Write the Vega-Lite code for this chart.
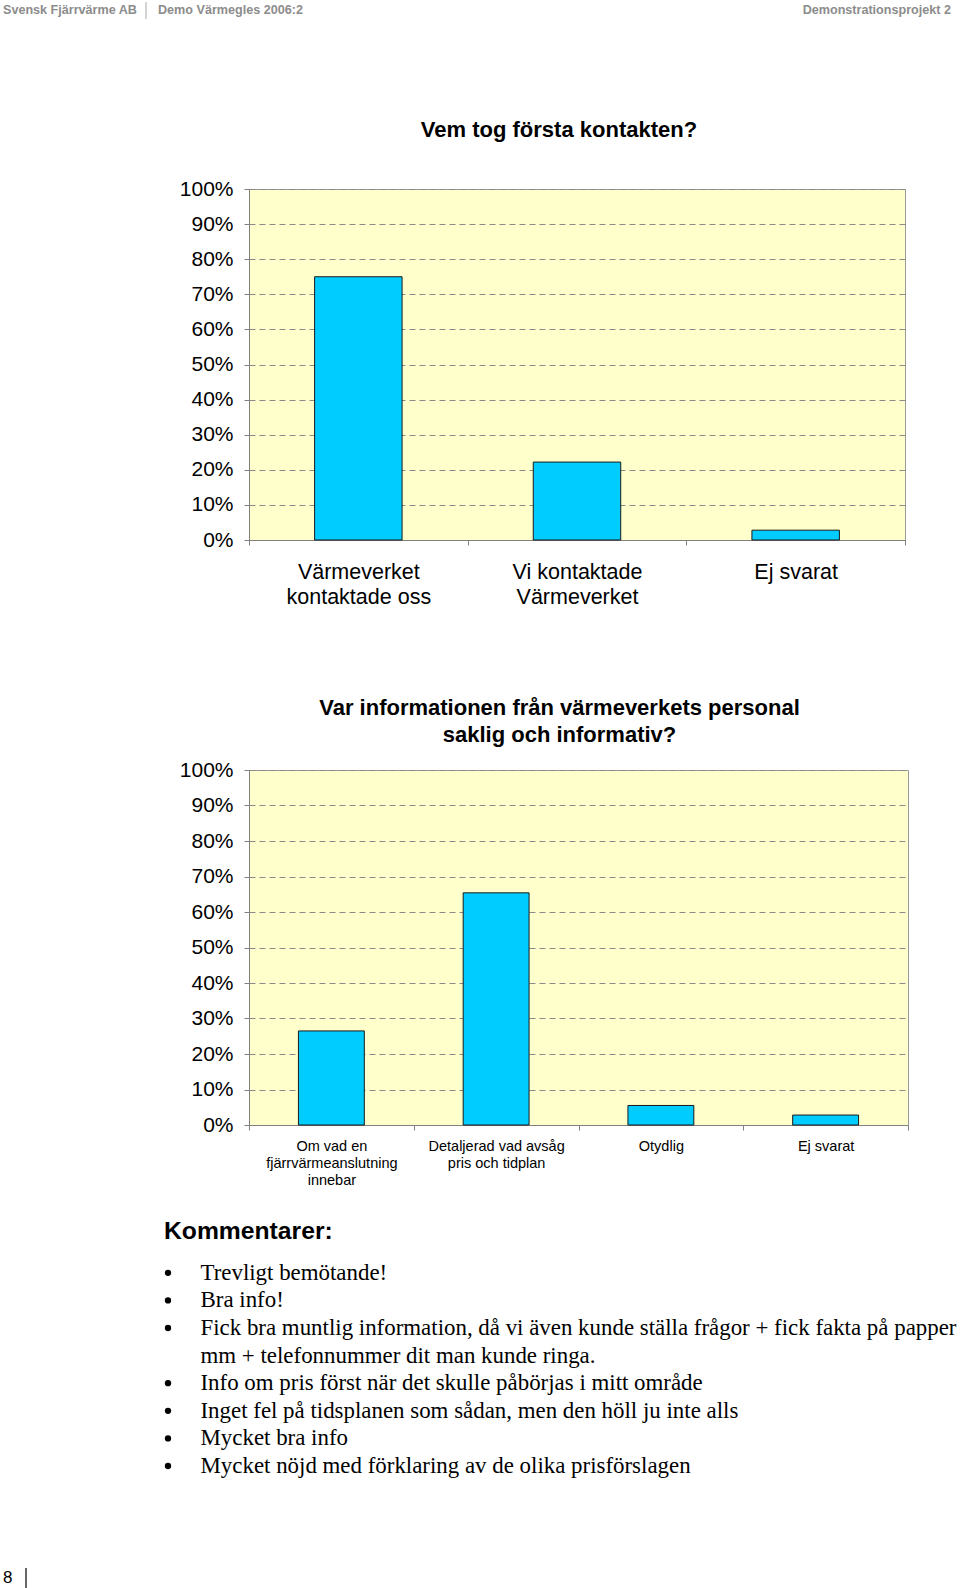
{
  "$schema": "https://vega.github.io/schema/vega-lite/v6.json",
  "padding": 0,
  "background": "white",
  "spacing": 0,
  "config": {
    "font": "Liberation Sans",
    "view": {"stroke": null},
    "title": {"color": "black", "font": "Liberation Sans"},
    "axis": {"labelFont": "Liberation Sans", "labelColor": "black"}
  },
  "vconcat": [
    {
      "width": 700,
      "height": 118,
      "data": {"values": [
        {"del": "vanster", "text": "Svensk Fjärrvärme AB"},
        {"del": "mitt", "text": "Demo Värmegles 2006:2"},
        {"del": "hoger", "text": "Demonstrationsprojekt 2"}
      ]},
      "layer": [
        {
          "transform": [{"filter": "datum.del == 'vanster'"}],
          "mark": {"type": "text", "align": "left", "baseline": "middle", "fontSize": 12.6, "fontWeight": "bold", "color": "#8c8c8c"},
          "encoding": {"x": {"value": -246}, "y": {"value": 10}, "text": {"field": "text"}}
        },
        {
          "transform": [{"filter": "datum.del == 'mitt'"}],
          "mark": {"type": "text", "align": "left", "baseline": "middle", "fontSize": 12.6, "fontWeight": "bold", "color": "#8c8c8c"},
          "encoding": {"x": {"value": -91}, "y": {"value": 10}, "text": {"field": "text"}}
        },
        {
          "transform": [{"filter": "datum.del == 'mitt'"}],
          "mark": {"type": "rule", "color": "#a8a8a8", "strokeWidth": 1},
          "encoding": {"x": {"value": -103}, "y": {"value": 2}, "y2": {"value": 19}}
        },
        {
          "transform": [{"filter": "datum.del == 'hoger'"}],
          "mark": {"type": "text", "align": "right", "baseline": "middle", "fontSize": 12.6, "fontWeight": "bold", "color": "#8c8c8c"},
          "encoding": {"x": {"value": 702}, "y": {"value": 10}, "text": {"field": "text"}}
        }
      ]
    },
    {
      "width": 656,
      "height": 351,
      "view": {"fill": "#FFFFCC", "stroke": "#9a9a9a"},
      "title": {"text": "Vem tog första kontakten?", "fontSize": 22, "fontWeight": "bold", "offset": 36.5, "dx": -18, "anchor": "middle"},
      "data": {"values": [
        {"svar": "Värmeverket\nkontaktade oss", "andel": 0.75},
        {"svar": "Vi kontaktade\nVärmeverket", "andel": 0.222},
        {"svar": "Ej svarat", "andel": 0.028}
      ]},
      "mark": {"type": "bar", "fill": "#00CCFF", "stroke": "#1a1a1a", "strokeWidth": 1, "width": {"band": 0.4}},
      "encoding": {
        "x": {
          "field": "svar", "type": "nominal", "sort": null,
          "scale": {"paddingInner": 0, "paddingOuter": 0},
          "axis": {"title": null, "labelAngle": 0, "labelExpr": "split(datum.label, '\\n')", "labelFontSize": 21.5, "labelLineHeight": 25, "labelPadding": 16, "labelBaseline": "top", "tickBand": "extent", "tickSize": 5, "tickColor": "#808080", "domainColor": "#808080", "minExtent": 155, "labelLimit": 0}
        },
        "y": {
          "field": "andel", "type": "quantitative",
          "scale": {"domain": [0, 1], "nice": false},
          "axis": {"title": null, "values": [0, 0.1, 0.2, 0.3, 0.4, 0.5, 0.6, 0.7, 0.8, 0.9, 1], "format": ".0%", "labelFontSize": 21, "labelPadding": 11, "tickSize": 5, "tickColor": "#808080", "domainColor": "#808080", "grid": true, "gridDash": [6, 4], "gridColor": "#8a8a8a", "minExtent": 248}
        }
      }
    },
    {
      "width": 659,
      "height": 355,
      "view": {"fill": "#FFFFCC", "stroke": "#9a9a9a"},
      "title": {"text": ["Var informationen från värmeverkets personal", "saklig och informativ?"], "fontSize": 22, "fontWeight": "bold", "lineHeight": 27, "offset": 12, "dx": -19, "anchor": "middle"},
      "data": {"values": [
        {"svar": "Om vad en\nfjärrvärmeanslutning\ninnebar", "andel": 0.265},
        {"svar": "Detaljerad vad avsåg\npris och tidplan", "andel": 0.654},
        {"svar": "Otydlig", "andel": 0.055},
        {"svar": "Ej svarat", "andel": 0.028}
      ]},
      "mark": {"type": "bar", "fill": "#00CCFF", "stroke": "#1a1a1a", "strokeWidth": 1, "width": {"band": 0.4}},
      "encoding": {
        "x": {
          "field": "svar", "type": "nominal", "sort": null,
          "scale": {"paddingInner": 0, "paddingOuter": 0},
          "axis": {"title": null, "labelAngle": 0, "labelExpr": "split(datum.label, '\\n')", "labelFontSize": 14.5, "labelLineHeight": 17, "labelPadding": 9, "labelBaseline": "top", "tickBand": "extent", "tickSize": 5, "tickColor": "#808080", "domainColor": "#808080", "minExtent": 93, "labelLimit": 0}
        },
        "y": {
          "field": "andel", "type": "quantitative",
          "scale": {"domain": [0, 1], "nice": false},
          "axis": {"title": null, "values": [0, 0.1, 0.2, 0.3, 0.4, 0.5, 0.6, 0.7, 0.8, 0.9, 1], "format": ".0%", "labelFontSize": 21, "labelPadding": 11, "tickSize": 5, "tickColor": "#808080", "domainColor": "#808080", "grid": true, "gridDash": [6, 4], "gridColor": "#8a8a8a", "minExtent": 248}
        }
      }
    },
    {
      "width": 700,
      "height": 308,
      "title": {"text": "Kommentarer:", "fontSize": 24.7, "fontWeight": "bold", "anchor": "start", "frame": "group", "dx": -85, "offset": 15},
      "data": {"values": [
        {"rad": 1, "punkt": true, "text": "Trevligt bemötande!"},
        {"rad": 2, "punkt": true, "text": "Bra info!"},
        {"rad": 3, "punkt": true, "text": "Fick bra muntlig information, då vi även kunde ställa frågor + fick fakta på papper"},
        {"rad": 4, "punkt": false, "text": "mm + telefonnummer dit man kunde ringa."},
        {"rad": 5, "punkt": true, "text": "Info om pris först när det skulle påbörjas i mitt område"},
        {"rad": 6, "punkt": true, "text": "Inget fel på tidsplanen som sådan, men den höll ju inte alls"},
        {"rad": 7, "punkt": true, "text": "Mycket bra info"},
        {"rad": 8, "punkt": true, "text": "Mycket nöjd med förklaring av de olika prisförslagen"}
      ]},
      "encoding": {
        "y": {"field": "rad", "type": "quantitative", "scale": {"domain": [0.5, 11.66], "reverse": true, "nice": false, "zero": false}, "axis": null}
      },
      "layer": [
        {
          "mark": {"type": "text", "align": "left", "baseline": "middle", "font": "Liberation Serif", "fontSize": 22.9, "color": "black"},
          "encoding": {"x": {"value": -48.5}, "text": {"field": "text"}}
        },
        {
          "transform": [{"filter": "datum.punkt"}],
          "mark": {"type": "point", "shape": "circle", "filled": true, "size": 40, "color": "black", "opacity": 1},
          "encoding": {"x": {"value": -81}}
        }
      ]
    },
    {
      "width": 60,
      "height": 20,
      "data": {"values": [{"sida": "8"}]},
      "layer": [
        {
          "mark": {"type": "text", "align": "left", "baseline": "middle", "fontSize": 17, "color": "black"},
          "encoding": {"x": {"value": -246}, "y": {"value": 10}, "text": {"field": "sida"}}
        },
        {
          "mark": {"type": "rule", "color": "black", "strokeWidth": 1.2},
          "encoding": {"x": {"value": -223}, "y": {"value": 0}, "y2": {"value": 21}}
        }
      ]
    }
  ]
}
